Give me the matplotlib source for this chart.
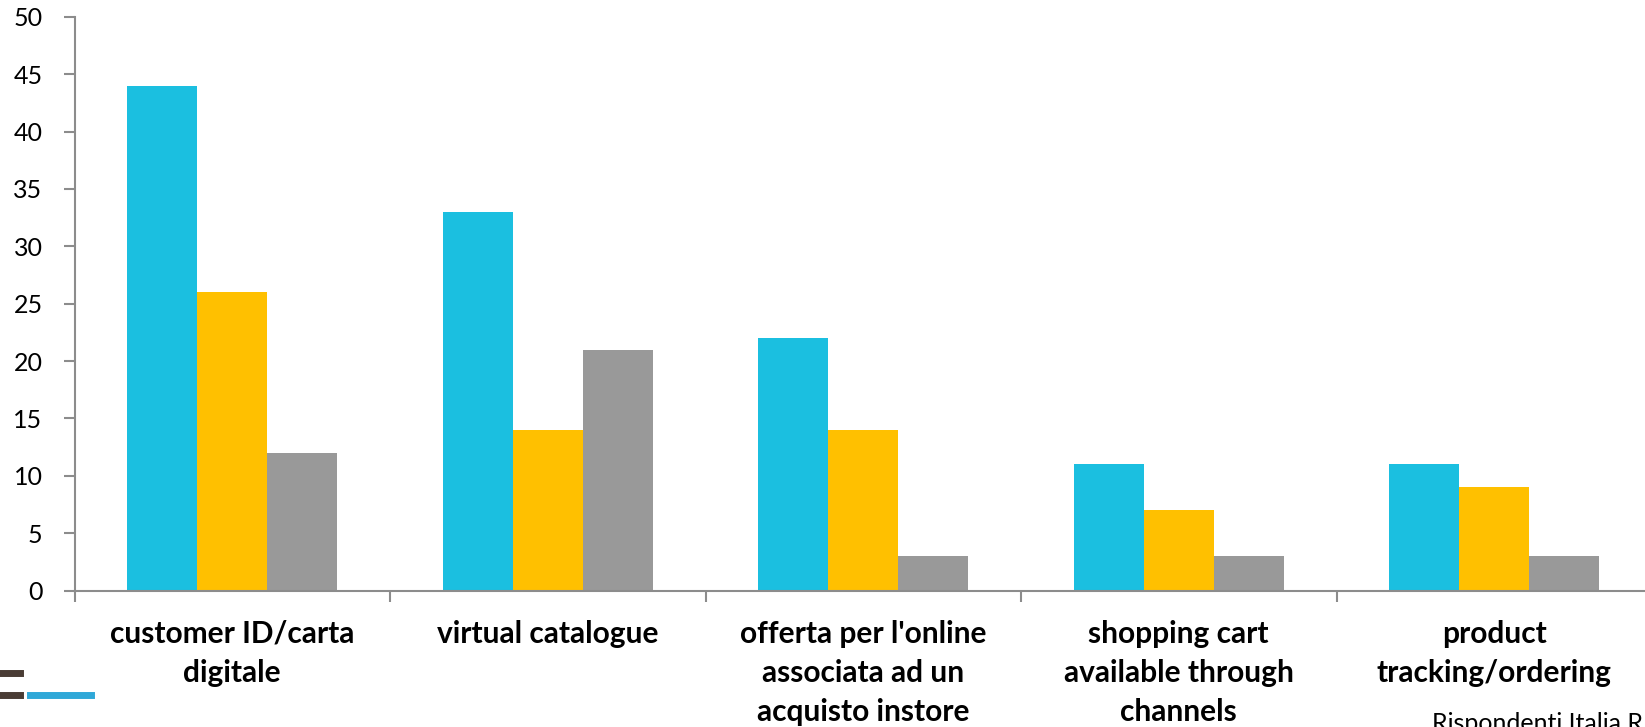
import matplotlib
matplotlib.use("Agg")
import matplotlib.pyplot as plt
import numpy as np

categories = [
    "customer ID/carta\ndigitale",
    "virtual catalogue",
    "offerta per l'online\nassociata ad un\nacquisto instore",
    "shopping cart\navailable through\nchannels",
    "product\ntracking/ordering",
]
series_blue = [44, 33, 22, 11, 11]
series_yellow = [26, 14, 14, 7, 9]
series_gray = [12, 21, 3, 3, 3]
y_ticks = [0, 5, 10, 15, 20, 25, 30, 35, 40, 45, 50]

colors = ["#1BBFE0", "#FFC000", "#999999"]
axis_color = "#8C8C8C"

W, H = 1645, 727
fig = plt.figure(figsize=(W / 100, H / 100), dpi=100)
left, right = 74.5, 74.5 + 5 * 315.5
bottom, top = 590.6, 16.8
ax = fig.add_axes([left / W, (H - bottom) / H, (right - left) / W, (bottom - top) / H])

x = np.arange(len(categories))
bw = 2 / 9
for i, (vals, c) in enumerate(zip([series_blue, series_yellow, series_gray], colors)):
    ax.bar(x + (i - 1) * bw, vals, width=bw, color=c, linewidth=0)

ax.set_xlim(-0.5, len(categories) - 0.5)
ax.set_ylim(0, 50)

for s in ["top", "right"]:
    ax.spines[s].set_visible(False)
for s in ["left", "bottom"]:
    ax.spines[s].set_color(axis_color)
    ax.spines[s].set_linewidth(1.5)

ax.set_yticks(y_ticks)
ax.set_yticklabels([str(v) for v in y_ticks], fontsize=18, fontfamily="Lato")
ax.tick_params(axis="y", direction="out", length=8, width=1.5, color=axis_color, pad=15)

# boundary ticks on the x axis, labels centred between them
ax.set_xticks(np.arange(-0.5, len(categories) + 0.5, 1))
ax.set_xticklabels([])
ax.set_xticks(x, minor=True)
ax.set_xticklabels(categories, minor=True, fontsize=21.5, fontweight="bold",
                   fontfamily="Lato", linespacing=1.49)
ax.tick_params(axis="x", which="major", direction="out", length=8, width=1.5, color=axis_color)
ax.tick_params(axis="x", which="minor", length=0, pad=21)

# corner mark
fig.add_artist(plt.Line2D([0, 20 / W], [1 - 673 / H, 1 - 673 / H], color="#4A3C35", lw=5))
fig.add_artist(plt.Line2D([0, 20 / W], [1 - 695 / H, 1 - 695 / H], color="#4A3C35", lw=5))
fig.add_artist(plt.Line2D([30 / W, 91 / W], [1 - 695 / H, 1 - 695 / H], color="#2FA8D8", lw=5))

fig.text(1432 / W, 1 - 712 / H, "Rispondenti Italia R", fontsize=18, fontfamily="Lato",
         va="top", ha="left")

fig.savefig("out.png", dpi=100)
